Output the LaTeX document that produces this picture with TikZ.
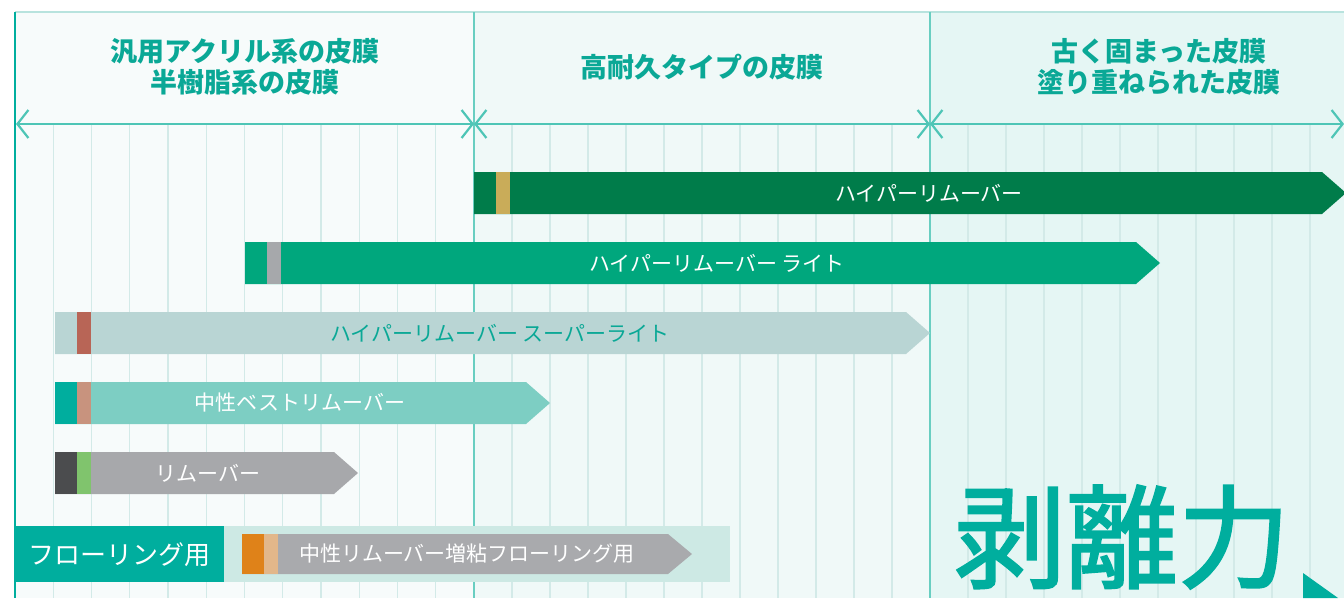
\documentclass[tikz,border=0pt]{standalone}
\usepackage{fontspec}
\newfontfamily\jpfont{Noto Sans CJK JP}
\newfontfamily\jpheavy[FakeBold=2]{Noto Sans CJK JP}
\usetikzlibrary{arrows.meta}

\definecolor{mainteal}{HTML}{00AE9E}
\definecolor{headteal}{HTML}{0AA896}
\definecolor{axisteal}{HTML}{4EC5B6}
\definecolor{gridteal}{HTML}{D3EAE8}
\definecolor{bgone}{HTML}{F7FBFB}
\definecolor{bgtwo}{HTML}{F0F9F8}
\definecolor{bgthree}{HTML}{E5F6F4}
\definecolor{hyperdark}{HTML}{007C4A}
\definecolor{hypergold}{HTML}{C9AC59}
\definecolor{litegreen}{HTML}{00A77D}
\definecolor{stripegrey}{HTML}{A6A8AB}
\definecolor{superpale}{HTML}{B9D5D4}
\definecolor{superred}{HTML}{B86556}
\definecolor{bestmint}{HTML}{7DCEC3}
\definecolor{besttan}{HTML}{C8937E}
\definecolor{plaingrey}{HTML}{A7A8AB}
\definecolor{plaindark}{HTML}{4B4C4E}
\definecolor{plaingreen}{HTML}{80C46D}
\definecolor{floorpanel}{HTML}{CDE9E4}
\definecolor{floorgrey}{HTML}{A9AAAD}
\definecolor{floororange}{HTML}{DF8219}
\definecolor{floortan}{HTML}{E2B78A}

% bar: top y, left x, tip x, height, main colour, block colour, stripe colour
\newcommand{\remover}[7]{%
  \fill[#5] (#2,#1) -- (#3-24,#1) -- (#3,#1+#4/2) -- (#3-24,#1+#4) -- (#2,#1+#4) -- cycle;
  \fill[#6] (#2,#1) rectangle (#2+22,#1+#4);
  \fill[#7] (#2+22,#1) rectangle (#2+36,#1+#4);
}

\begin{document}
\begin{tikzpicture}[x=1pt, y=-1pt,
  barb/.style={{Straight Barb[length=11pt,width=28pt]}-{Straight Barb[length=11pt,width=28pt]}},
  head/.style={text=headteal, align=center, inner sep=0, font=\jpfont\bfseries\fontsize{27}{31}\selectfont},
  bartext/.style={text=white, inner sep=0, font=\jpfont\fontsize{21}{21}\selectfont},
  gridline/.style={gridteal, line width=1.2pt}]
\useasboundingbox (0,0) rectangle (1344,598);
\fill[white] (0,0) rectangle (1344,598);

% three zones
\fill[bgone] (15,12) rectangle (474,598);
\fill[bgtwo] (474,12) rectangle (930,598);
\fill[bgthree] (930,12) rectangle (1344,598);

% grid
\foreach \k in {1,...,11} \draw[gridline] ({15+38.25*\k},124) -- ++(0,474);
\foreach \k in {1,...,11} \draw[gridline] ({474+38*\k},124) -- ++(0,474);
\foreach \k in {1,...,10} \draw[gridline] ({930+38*\k},124) -- ++(0,474);

\draw[color=gridteal!80!axisteal, line width=1.5pt] (15,12) -- (1344,12);
\draw[color=axisteal!85!white, line width=1.5pt] (474,12) -- (474,598);
\draw[color=axisteal!85!white, line width=1.5pt] (930,12) -- (930,598);
\draw[color=mainteal, line width=2.5pt] (15,12) -- (15,598);

% ranges
\draw[barb, axisteal, line width=2.2pt] (16,124) -- (474,124);
\draw[barb, axisteal, line width=2.2pt] (474,124) -- (930,124);
\draw[barb, axisteal, line width=2.2pt] (930,124) -- (1344,124);

\node[head] (acrylic) at (245,67) {汎用アクリル系の皮膜\\半樹脂系の皮膜};
\node[head] (durable) at (702,67) {高耐久タイプの皮膜};
\node[head] (old) at (1159,67) {古く固まった皮膜\\塗り重ねられた皮膜};

% products
\remover{172}{474}{1346}{42}{hyperdark}{hyperdark}{hypergold}
\node[bartext] (hyper) at (929,193) {ハイパーリムーバー};

\remover{242}{245}{1160}{42}{litegreen}{litegreen}{stripegrey}
\node[bartext] (lite) at (717,263) {ハイパーリムーバー ライト};

\remover{312}{55}{930}{42}{superpale}{superpale}{superred}
\node[bartext, text=headteal] (superlite) at (500,333) {ハイパーリムーバー スーパーライト};

\remover{382}{55}{550}{42}{bestmint}{mainteal}{besttan}
\node[bartext] (best) at (300,403) {中性ベストリムーバー};

\remover{452}{55}{358}{42}{plaingrey}{plaindark}{plaingreen}
\node[bartext] (plain) at (208,473) {リムーバー};

% flooring
\fill[floorpanel] (224,526) rectangle (730,582);
\node[fill=mainteal, text=white, anchor=north west, inner sep=0, minimum width=209pt, minimum height=56pt,
  font=\jpfont\fontsize{26}{26}\selectfont] (floorlabel) at (15,526) {フローリング用};
\remover{534}{242}{692}{40}{floorgrey}{floororange}{floortan}
\node[bartext] (floor) at (467,554) {中性リムーバー増粘フローリング用};

% peel strength
\node[text=mainteal, inner sep=0, font=\jpheavy\fontsize{112}{112}\selectfont] (peel) at (1122,537) {剥離力};
\fill[mainteal] (1303,573) -- (1303,598) -- (1338,598) -- cycle;
\end{tikzpicture}
\end{document}
